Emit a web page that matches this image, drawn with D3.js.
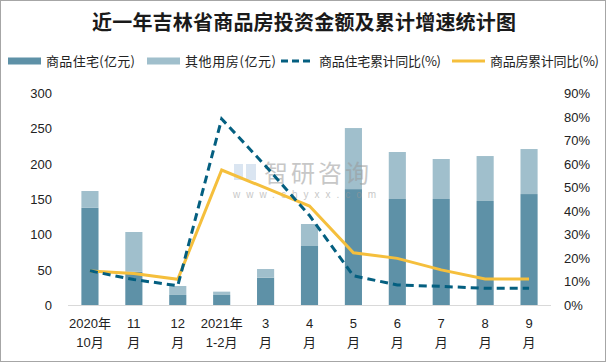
<!DOCTYPE html>
<html>
<head>
<meta charset="utf-8">
<script src="https://cdn.jsdelivr.net/npm/d3@7"></script>
<style>
  body { margin: 0; background: #fff; }
  text { font-family: "Liberation Sans", "Noto Sans CJK SC", sans-serif; }
</style>
</head>
<body>
<script>
// chart data
var months = [["2020年", "10月"], ["11", "月"], ["12", "月"], ["2021年", "1-2月"],
              ["3", "月"], ["4", "月"], ["5", "月"], ["6", "月"], ["7", "月"],
              ["8", "月"], ["9", "月"]];
var housing = [137.5, 47, 14.2, 14.2, 38.7, 83.5, 164, 150, 150, 147.2, 157];
var others = [23.8, 56.3, 12.7, 4.7, 12.2, 31.1, 86.4, 66.5, 56.6, 63.6, 63.7];
var housingGrowth = [14.5, 10.8, 8.2, 79, 59, 38, 12.4, 8.5, 7.9, 7.1, 7.1];
var totalGrowth = [14.4, 13.4, 10.9, 57.3, 49.7, 42, 22.2, 19.8, 14.9, 11, 11];
var leftTicks = [0, 50, 100, 150, 200, 250, 300];
var rightTicks = [0, 10, 20, 30, 40, 50, 60, 70, 80, 90];

var legendNames = ["商品住宅(亿元)", "其他用房(亿元)", "商品住宅累计同比(%)", "商品房累计同比(%)"];

var w = 606;
var h = 363;
var darkBar = "#5e91a7";
var lightBar = "#a0bfcc";
var dashBlue = "#045f80";
var gold = "#f5bf3c";

var svg = d3.select("body")
            .append("svg")
            .attr("width", w)
            .attr("height", h);

// outer border
svg.append("rect")
   .attr("x", 0.5).attr("y", 0.5)
   .attr("width", w - 1).attr("height", h - 2)
   .attr("fill", "#fff")
   .attr("stroke", "#a6a6a6");

// title
svg.append("text")
   .attr("x", 304)
   .attr("y", 30)
   .attr("text-anchor", "middle")
   .attr("textLength", 424)
   .attr("lengthAdjust", "spacing")
   .style("font-family", "'Noto Sans CJK SC'")
   .style("font-weight", "bold")
   .style("font-size", "20px")
   .attr("fill", "#1a1a1a")
   .text("近一年吉林省商品房投资金额及累计增速统计图");

// scales
var xScale = d3.scaleBand()
               .domain(d3.range(months.length))
               .range([68, 551])
               .paddingInner(0.61)
               .paddingOuter(0.305);
var yScale = d3.scaleLinear().domain([0, 300]).range([305, 93]);
var pScale = d3.scaleLinear().domain([0, 90]).range([305, 93]);

// left axis labels
svg.selectAll(".ltick")
   .data(leftTicks)
   .enter()
   .append("text")
   .attr("x", 52)
   .attr("y", function(d) { return yScale(d) + 5; })
   .attr("text-anchor", "end")
   .style("font-size", "13px")
   .attr("fill", "#222")
   .text(function(d) { return d; });

// right axis labels
svg.selectAll(".rtick")
   .data(rightTicks)
   .enter()
   .append("text")
   .attr("x", 564)
   .attr("y", function(d) { return pScale(d) + 5; })
   .style("font-size", "13px")
   .attr("fill", "#222")
   .text(function(d) { return d + "%"; });

// stacked bars
var stacked = months.map(function(m, i) {
    return {i: i, dark: housing[i], light: others[i]};
});

svg.selectAll(".dark")
   .data(stacked)
   .enter()
   .append("rect")
   .attr("x", function(d) { return xScale(d.i); })
   .attr("width", xScale.bandwidth())
   .attr("y", function(d) { return yScale(d.dark); })
   .attr("height", function(d) { return yScale(0) - yScale(d.dark); })
   .attr("fill", darkBar);

svg.selectAll(".light")
   .data(stacked)
   .enter()
   .append("rect")
   .attr("x", function(d) { return xScale(d.i); })
   .attr("width", xScale.bandwidth())
   .attr("y", function(d) { return yScale(d.dark + d.light); })
   .attr("height", function(d) { return yScale(d.dark) - yScale(d.dark + d.light); })
   .attr("fill", lightBar);

// x axis line
svg.append("line")
   .attr("x1", 68).attr("x2", 551)
   .attr("y1", 305.5).attr("y2", 305.5)
   .attr("stroke", "#d9d9d9");

// x labels
var xl = svg.selectAll(".xl")
            .data(months)
            .enter()
            .append("text")
            .attr("text-anchor", "middle")
            .style("font-size", "13px")
            .attr("fill", "#222");
xl.append("tspan")
  .attr("x", function(d, i) { return xScale(i) + xScale.bandwidth() / 2; })
  .attr("y", 328)
  .text(function(d) { return d[0]; });
xl.append("tspan")
  .attr("x", function(d, i) { return xScale(i) + xScale.bandwidth() / 2; })
  .attr("y", 347)
  .text(function(d) { return d[1]; });

// watermark
var wm = svg.append("g").attr("opacity", 0.55);
wm.append("rect").attr("x", 234).attr("y", 164).attr("width", 9).attr("height", 16)
  .attr("fill", "#bcd0e6");
wm.append("rect").attr("x", 246).attr("y", 164).attr("width", 10).attr("height", 16)
  .attr("fill", "#bcd0e6");
wm.append("text")
  .attr("x", 264).attr("y", 182)
  .style("font-family", "'Noto Sans CJK SC'")
  .style("font-size", "24px")
  .style("letter-spacing", "3px")
  .attr("fill", "#9a9a9a")
  .text("智研咨询");
wm.append("text")
  .attr("x", 233).attr("y", 198)
  .style("font-size", "10px")
  .style("letter-spacing", "6px")
  .attr("fill", "#9a9a9a")
  .text("www.chyxx.com");

// lines
var xMid = function(d, i) { return xScale(i) + xScale.bandwidth() / 2; };

svg.append("path")
   .datum(totalGrowth)
   .attr("fill", "none")
   .attr("stroke", gold)
   .attr("stroke-width", 3)
   .attr("d", d3.line().x(xMid).y(function(d) { return pScale(d); }));

svg.append("path")
   .datum(housingGrowth)
   .attr("fill", "none")
   .attr("stroke", dashBlue)
   .attr("stroke-width", 3)
   .attr("stroke-dasharray", "8,5")
   .attr("d", d3.line().x(xMid).y(function(d) { return pScale(d); }));

// legend
var legendX = [8, 147, 281, 452];
var legendLen = [89, 91, 122, 109];
var legend = svg.selectAll(".legend")
                .data(legendNames)
                .enter()
                .append("g")
                .attr("transform", function(d, i) {
                    return "translate(" + legendX[i] + ",61)";
                });

legend.each(function(d, i) {
    var g = d3.select(this);
    if (i < 2) {
        g.append("rect")
         .attr("x", 0).attr("y", -3.5)
         .attr("width", 33).attr("height", 7)
         .attr("fill", i === 0 ? darkBar : lightBar);
    } else {
        g.append("line")
         .attr("x1", 0).attr("x2", 33)
         .attr("y1", 0).attr("y2", 0)
         .attr("stroke", i === 2 ? dashBlue : gold)
         .attr("stroke-width", 3)
         .attr("stroke-dasharray", i === 2 ? "7,4" : null);
    }
    g.append("text")
     .attr("x", 38)
     .attr("y", 5)
     .attr("textLength", legendLen[i])
     .attr("lengthAdjust", "spacing")
     .style("font-family", "'Noto Sans CJK SC'")
     .style("font-size", "13px")
     .attr("fill", "#222")
     .text(d);
});
</script>
</body>
</html>
